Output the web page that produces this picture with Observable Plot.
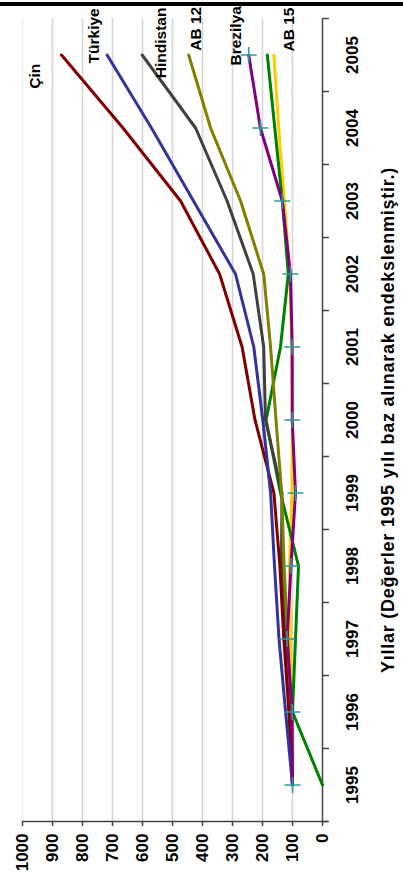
<!DOCTYPE html>
<html><head><meta charset="utf-8">
<script src="https://cdn.jsdelivr.net/npm/d3@7"></script>
<script src="https://cdn.jsdelivr.net/npm/@observablehq/plot@0.6"></script>
<style>
body{margin:0;background:#fff;font-family:"Liberation Sans",Arial,sans-serif;}
#bar{margin-top:2px;height:4px;background:#000;width:403px;}
#chart svg{overflow:visible;display:block;}
</style></head><body>
<div id="bar"></div>
<div id="chart"></div>
<script>
// ---- data ----
const years = [1995, 1996, 1997, 1998, 1999, 2000, 2001, 2002, 2003, 2004, 2005];
const cin       = [100, 112, 129, 142, 162, 225, 268, 343, 473, 665, 870];
const turkiye   = [100, 123, 145, 160, 173, 199, 229, 290, 430, 570, 718];
const hindistan = [100, 108, 122, 137, 135, 190, 196, 231, 318, 423, 601];
const ab12      = [100, 106, 116, 128, 136, 155, 173, 196, 273, 373, 446];
const brezilya  = [100, 101, 118, 105,  90, 101, 101, 107, 134, 207, 246];
const ab15      = [100, 103, 107, 110, 102, 100, 102, 109, 127, 146, 162];
const diger     = [  0, 100,  90,  80, 140, 188, 140, 114, 134, 159, 184];
const valueTicks = [0, 100, 200, 300, 400, 500, 600, 700, 800, 900, 1000];
const axisTitle = "Yıllar (Değerler 1995 yılı baz alınarak endekslenmiştir.)";
const labelNames = ["Çin", "Türkiye", "Hindistan", "AB 12", "Brezilya", "AB 15"];

// ---- styling / layout ----
const series = [
  {name: "AB 15", values: ab15, color: "#ffcc00"},
  {name: "Diğer", values: diger, color: "#008000"},
  {name: "Hindistan", values: hindistan, color: "#404040"},
  {name: "AB 12", values: ab12, color: "#808000"},
  {name: "Çin", values: cin, color: "#800000"},
  {name: "Türkiye", values: turkiye, color: "#333399"},
  {name: "Brezilya", values: brezilya, color: "#800080"}
];
const rows = series.flatMap(s => s.values.map((v, i) => ({name: s.name, year: years[i], value: v})));
const labelLayout = {
  "Çin":       {at: 957, top: 2004.88},
  "Türkiye":   {at: 760, top: 2005.64},
  "Hindistan": {at: 537, top: 2005.65},
  "AB 12":     {at: 423, top: 2005.66},
  "Brezilya":  {at: 287, top: 2005.67},
  "AB 15":     {at: 113, top: 2005.65}
};
const labels = labelNames.map(n => ({name: n, ...labelLayout[n]}));

const crossSymbol = {
  draw(ctx, size) {
    const r = Math.sqrt(size / Math.PI);
    ctx.moveTo(-r, 0); ctx.lineTo(r, 0);
    ctx.moveTo(0, -r); ctx.lineTo(0, r);
  }
};

const bold = {fontWeight: "bold", fill: "#000"};

const chart = Plot.plot({
  width: 403,
  height: 886,
  marginLeft: 22,
  marginRight: 81,
  marginTop: 12,
  marginBottom: 71,
  style: {fontFamily: "'Liberation Sans', Arial, sans-serif", background: "#fff"},
  x: {domain: [0, 1000], reverse: true},
  y: {domain: [1994.5, 2005.5]},
  color: {domain: series.map(s => s.name), range: series.map(s => s.color)},
  marks: [
    Plot.ruleX(valueTicks.filter(v => v > 0 && v < 1000), {x: d => d, stroke: "#d4d4d4", strokeWidth: 1.5}),
    Plot.ruleX([1000], {x: d => d, stroke: "#eeeeee", strokeWidth: 1.5}),
    Plot.axisX({ticks: valueTicks, tickSize: 5, tickFormat: () => "", label: null, stroke: "#444", strokeWidth: 1.5}),
    Plot.axisY({anchor: "right", ticks: years.map(y => y - 0.5).concat([2005.5]), tickSize: 6, tickFormat: () => "", label: null, stroke: "#444", strokeWidth: 1.5}),
    Plot.ruleX([0], {x: d => d, stroke: "#444", strokeWidth: 1.5}),
    Plot.ruleY([1994.5], {y: d => d, x1: 1000, x2: -20, stroke: "#444", strokeWidth: 1.5}),
    Plot.line(rows, {x: "value", y: "year", z: "name", stroke: "name", strokeWidth: 3}),
    Plot.dot(rows.filter(d => d.name === "Brezilya"), {x: "value", y: "year", symbol: crossSymbol, r: 8, stroke: "#2e9999", strokeWidth: 1.6, fill: "none"}),
    Plot.text(years, {y: d => d, text: d => String(d), frameAnchor: "right", dx: 30, rotate: -90, textAnchor: "middle", lineAnchor: "middle", fontSize: 17, ...bold}),
    Plot.text(valueTicks, {x: d => d, text: d => String(d), frameAnchor: "bottom", dy: 12, rotate: -90, textAnchor: "end", lineAnchor: "middle", fontSize: 17, ...bold}),
    Plot.text([axisTitle], {text: d => d, frameAnchor: "right", dx: 66, rotate: -90, textAnchor: "middle", lineAnchor: "middle", fontSize: 18, ...bold}),
    Plot.text(labels, {x: "at", y: "top", text: "name", rotate: -90, textAnchor: "end", lineAnchor: "middle", fontSize: 15.5, ...bold})
  ]
});
document.getElementById("chart").appendChild(chart);
d3.select(chart).selectAll("text").filter(function () { return this.textContent === axisTitle; })
  .attr("letter-spacing", "0.75px");
</script>
</body></html>
